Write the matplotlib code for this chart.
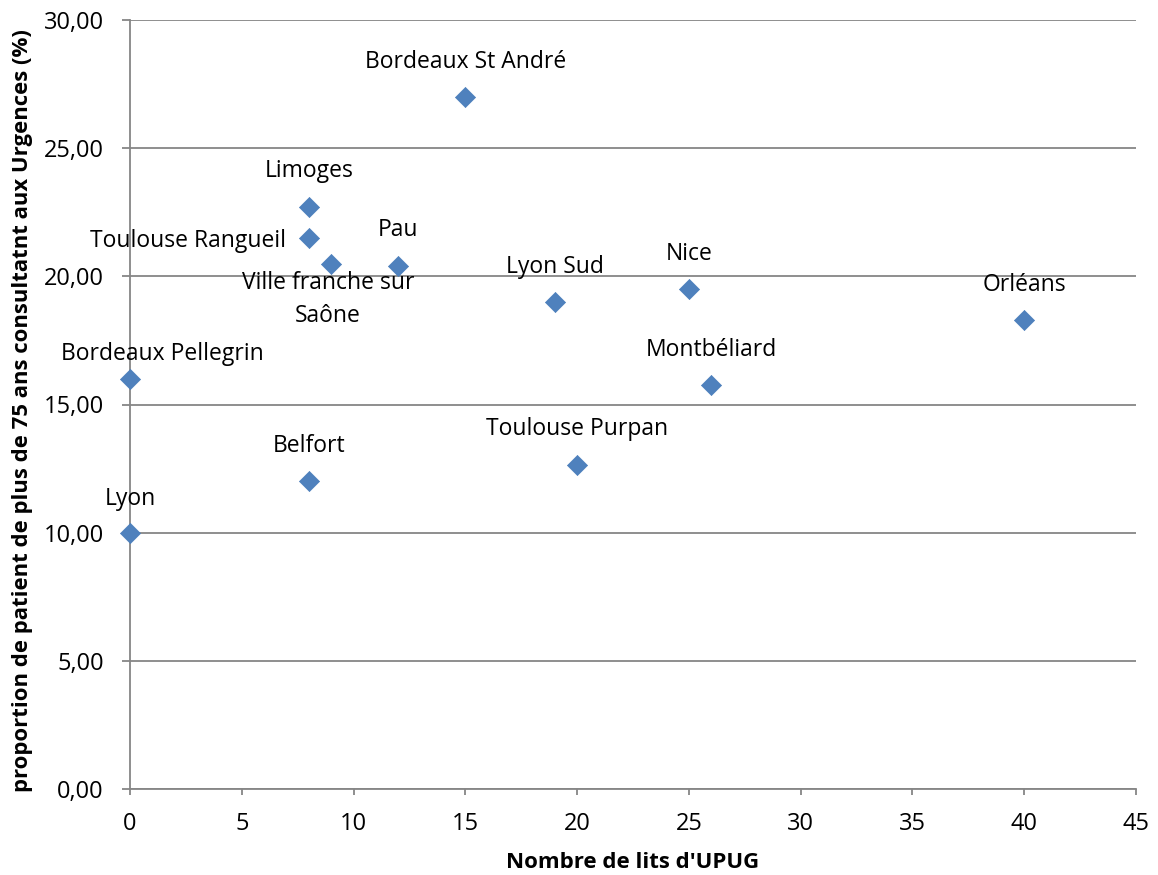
import matplotlib
matplotlib.use("Agg")
import matplotlib.pyplot as plt

# Data
villes = ["Bordeaux St André", "Limoges", "Toulouse Rangueil", "Ville franche sur\nSaône",
          "Pau", "Lyon Sud", "Nice", "Orléans", "Bordeaux Pellegrin", "Montbéliard",
          "Toulouse Purpan", "Belfort", "Lyon"]
lits = [15, 8, 8, 9, 12, 19, 25, 40, 0, 26, 20, 8, 0]
proportion = [27.0, 22.7, 21.5, 20.5, 20.4, 19.0, 19.5, 18.3, 16.0, 15.75, 12.65, 12.0, 10.0]
y_ticks = [0, 5, 10, 15, 20, 25, 30]

# label offsets in pixels (dx, dy) relative to each point
offsets = [(0, 35), (0, 36), (-121, -3), (-3, -36), (0, 36), (0, 35), (0, 35), (0, 35),
           (32, 25), (0, 35), (0, 36), (0, 35), (0, 34)]

plt.rcParams['font.family'] = ['Open Sans', 'DejaVu Sans']

fig = plt.figure(figsize=(11.58, 8.75), dpi=100)
ax = fig.add_axes([130 / 1158, 1 - 789 / 875, 1006 / 1158, 769 / 875])

grid_col = '#868686'
ax.scatter(lits, proportion, marker='D', s=105, color='#4F81BD', edgecolors='#4A7EBB',
           linewidths=0.5, zorder=3, clip_on=False)

for name, x, y, (dx, dy) in zip(villes, lits, proportion, offsets):
    ax.annotate(name, (x, y), xytext=(dx, dy), textcoords='offset pixels',
                ha='center', va='center', fontsize=16.5, color='black', linespacing=1.5)

ax.set_xlim(0, 45)
ax.set_ylim(0, 30)
ax.set_xticks(range(0, 46, 5))
ax.set_yticks(y_ticks)
ax.set_yticklabels([('%.2f' % v).replace('.', ',') for v in y_ticks])

ax.yaxis.grid(True, color=grid_col, linewidth=1.3)
ax.set_axisbelow(True)
for side in ['top', 'right']:
    ax.spines[side].set_visible(False)
for side in ['left', 'bottom']:
    ax.spines[side].set_color(grid_col)
    ax.spines[side].set_linewidth(1.3)
ax.tick_params(axis='both', colors=grid_col, width=1.3, direction='out',
               labelcolor='black', labelsize=17)
ax.tick_params(axis='x', length=4.3, pad=12)
ax.tick_params(axis='y', length=5.8, pad=13)

ax.set_xlabel("Nombre de lits d'UPUG", fontsize=16, fontweight='bold')
ax.set_ylabel("proportion de patient de plus de 75 ans consultatnt aux Urgences (%)",
              fontsize=15.9, fontweight='bold')
ax.xaxis.set_label_coords(0.5, -0.0819)
ax.yaxis.set_label_coords(-0.0964, 0.4915)

fig.savefig("out.png", dpi=100)
